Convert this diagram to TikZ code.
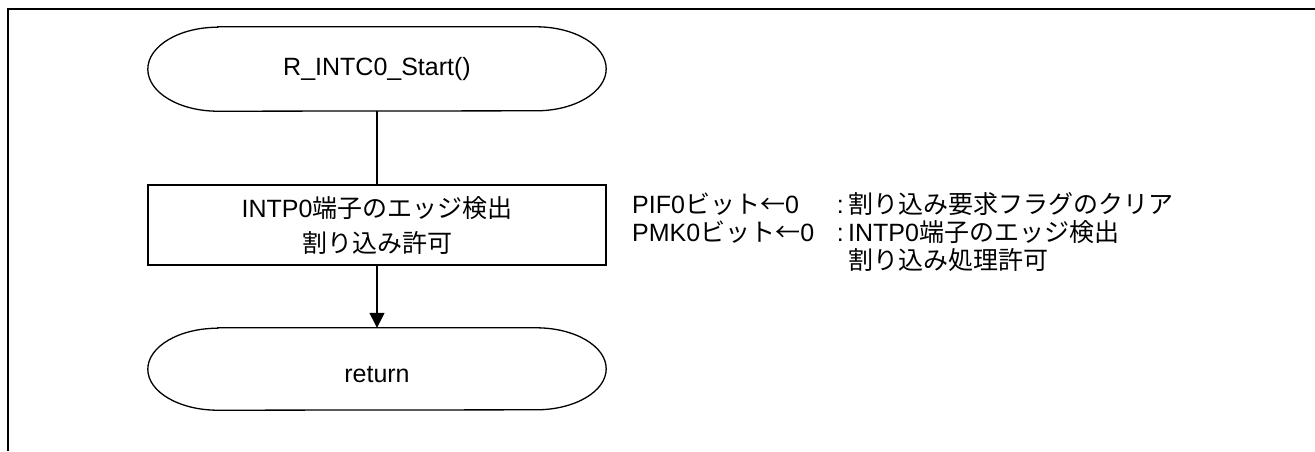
\documentclass[tikz,border=0pt]{standalone}
\usepackage{fontspec}
\setmainfont{Liberation Sans}
\newfontfamily\jpfont{Noto Sans CJK JP}
\newcommand{\jp}[1]{{\jpfont #1}}
\usetikzlibrary{arrows.meta}
\begin{document}
\begin{tikzpicture}[x=1pt,y=-1pt,
  txt/.style={font=\fontsize{25}{35}\selectfont, inner sep=0pt},
  term/.style={txt, minimum width=458pt, minimum height=84pt},
  procbox/.style={txt, draw, line width=1.3pt, minimum width=458pt, minimum height=80pt, align=center},
  shapeline/.style={line width=1.3pt},
  framel/.style={line width=2.5pt},
  note/.style={txt, anchor=base west},
  flow/.style={line width=1.3pt},
  flowarrow/.style={line width=1.3pt, -{Triangle[length=15pt,width=15pt]}}]
\useasboundingbox (0,0) rectangle (1315,451);
% frame
\coordinate (ftop) at (1315,9);
\coordinate (fcorner) at (8,9);
\coordinate (fbot) at (8,451);
\draw[framel] (ftop) -- (fcorner) -- (fbot);
% start terminator
\node[term, text height=17pt, text depth=5pt] (start) at (377,69) {R\_INTC0\_Start()};
\draw[shapeline] ([xshift=70pt]start.north west) -- ([xshift=-70pt]start.north east)
  arc[start angle=90,end angle=-90,x radius=70pt,y radius=42pt]
  -- ([xshift=70pt]start.south west)
  arc[start angle=270,end angle=90,x radius=70pt,y radius=42pt] -- cycle;
% process box
\node[procbox] (proc) at (377,225) {INTP0\jp{端子のエッジ検出}\\\jp{割り込み許可}};
% return terminator
\node[term, minimum height=82pt, text height=26pt, text depth=0pt] (ret) at (377,369) {return};
\draw[shapeline] ([xshift=70pt]ret.north west) -- ([xshift=-70pt]ret.north east)
  arc[start angle=90,end angle=-90,x radius=70pt,y radius=41pt]
  -- ([xshift=70pt]ret.south west)
  arc[start angle=270,end angle=90,x radius=70pt,y radius=41pt] -- cycle;
% connectors
\draw[flow] (start.south) -- (proc.north);
\draw[flowarrow] (proc.south) -- (ret.north);
% notes
\node[note] (pif) at (632,213) {PIF0\jp{ビット←}0};
\node[note] (pifd) at (848,213) {\llap{:\hspace{4.5pt}}\jp{割り込み要求フラグのクリア}};
\node[note] (pmk) at (632,241) {PMK0\jp{ビット←}0};
\node[note] (pmkd) at (848,241) {\llap{:\hspace{4.5pt}}INTP0\jp{端子のエッジ検出}};
\node[note] (pmkd2) at (848,269) {\jp{割り込み処理許可}};
\end{tikzpicture}
\end{document}
